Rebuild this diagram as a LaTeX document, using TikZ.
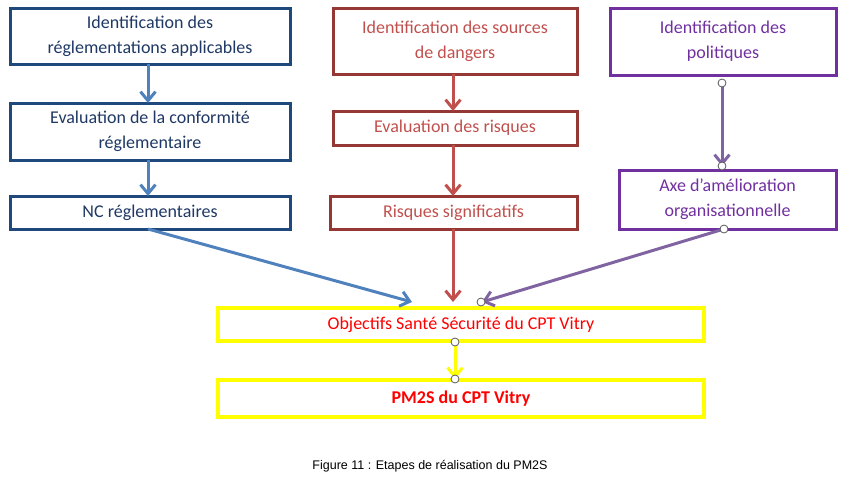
\documentclass[tikz,border=0pt]{standalone}
\usepackage{fontspec}
\setmainfont{Carlito}
\newfontfamily\capfont{Liberation Sans}
\usetikzlibrary{arrows.meta}
\definecolor{bb}{HTML}{1F497D}
\definecolor{bt}{HTML}{1F3864}
\definecolor{ba}{HTML}{4F81BD}
\definecolor{rb}{HTML}{953735}
\definecolor{rt}{HTML}{C0504D}
\definecolor{pb}{HTML}{7030A0}
\definecolor{pa}{HTML}{8064A2}
\definecolor{yy}{HTML}{FFFF00}
\begin{document}
\begin{tikzpicture}[x=1pt,y=-1pt,
 box/.style={draw,line width=3pt,align=center,font=\fontsize{18}{25}\selectfont,inner sep=0pt},
 ar/.style={line width=3pt,-{Straight Barb[length=9pt,width=15pt,line width=3pt]}},
 dot/.style={circle,draw=gray!70!black,fill=white,inner sep=0pt,minimum size=8pt,line width=0.8pt}]
\useasboundingbox (0,0) rectangle (864,496);
\node[box,draw=bb,text=bt,minimum width=280pt,minimum height=56pt] (b1) at (150,36) {Identification des\\réglementations applicables};
\node[box,draw=bb,text=bt,minimum width=280pt,minimum height=57pt] (b2) at (150,131.5) {Evaluation de la conformité\\réglementaire};
\node[box,draw=bb,text=bt,minimum width=280pt,minimum height=33pt] (b3) at (150,212.5) {NC réglementaires};
\node[box,draw=rb,text=rt,minimum width=244pt,minimum height=66pt] (r1) at (455,41) {Identification des sources\\de dangers};
\node[box,draw=rb,text=rt,minimum width=244pt,minimum height=34pt] (r2) at (455,128) {Evaluation des risques};
\node[box,draw=rb,text=rt,minimum width=247pt,minimum height=33pt] (r3) at (453.5,212.5) {Risques significatifs};
\node[box,draw=pb,text=pb,minimum width=226pt,minimum height=67pt] (p1) at (723,41.5) {Identification des\\politiques};
\node[box,draw=pb,text=pb,minimum width=217pt,minimum height=59pt] (p2) at (727.5,199.5) {Axe d’amélioration\\organisationnelle};
\node[box,draw=yy,line width=4pt,text=red,minimum width=486pt,minimum height=33pt] (y1) at (461,324.5) {Objectifs Santé Sécurité du CPT Vitry};
\node[box,draw=yy,line width=4pt,text=red,minimum width=486pt,minimum height=37pt,font=\fontsize{18}{22}\selectfont\bfseries] (y2) at (461,398.5) {PM2S du CPT Vitry};
\node[font=\capfont\fontsize{12.5}{15}\selectfont] (cap) at (430,466) {Figure 11 : Etapes de réalisation du PM2S};
\draw[ar,ba] (148,64) -- (148,103);
\draw[ar,ba] (148,160) -- (148,196);
\draw[ar,ba] (148,229) -- (412,302);
\draw[ar,rt] (453,74) -- (453,111);
\draw[ar,rt] (453,145) -- (453,196);
\draw[ar,rt] (453,229) -- (453,302);
\draw[ar,pa] (722,83) -- (722,166);
\node[dot] (d1) at (722,83) {};
\node[dot] (d2) at (722,166) {};
\draw[ar,pa] (724,229) -- (482,302);
\node[dot] (d3) at (724,229) {};
\node[dot] (d4) at (481,302) {};
\draw[ar,yy] (455,342) -- (455,379);
\node[dot] (d5) at (455,342) {};
\node[dot] (d6) at (455,379) {};
\end{tikzpicture}
\end{document}
